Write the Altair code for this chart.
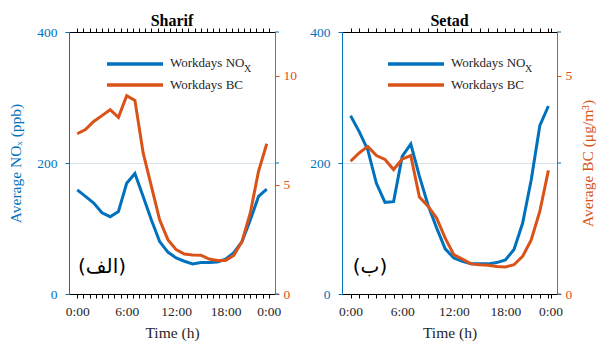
import altair as alt
import pandas as pd

# ---------------- data ----------------
hours = list(range(24))
nox_sharif = [159, 149, 139, 124, 118, 126, 169, 184, 149, 113, 80, 64, 55, 50, 46, 48, 48, 49, 53, 63, 80, 113, 149, 160]
bc_sharif = [7.34, 7.53, 7.9, 8.17, 8.44, 8.09, 9.08, 8.87, 6.46, 4.93, 3.4, 2.49, 2.03, 1.83, 1.79, 1.78, 1.6, 1.54, 1.54, 1.77, 2.41, 3.71, 5.62, 6.88]
nox_setad = [272, 248, 220, 169, 140, 141, 210, 229, 180, 136, 101, 69, 55, 50, 46, 46, 46, 48, 52, 68, 108, 174, 257, 287]
bc_setad = [3.04, 3.23, 3.38, 3.17, 3.08, 2.85, 3.09, 3.17, 2.22, 2.01, 1.74, 1.28, 0.9, 0.8, 0.69, 0.67, 0.66, 0.63, 0.62, 0.67, 0.86, 1.24, 1.89, 2.83]

label_pos = [0, 6, 12, 18, 23.25]
label_txt = ["0:00", "6:00", "12:00", "18:00", "0:00"]
ticks_sharif = [i * 0.75 for i in range(32)]
ticks_setad = list(range(24)) + [23.25]

nox_ticks = [0, 200, 400]
legend_labels = ["Workdays NO", "X", "Workdays BC"]

BLUE = "#0072BD"
ORANGE = "#D95319"
SERIF = "Liberation Serif"

label_expr = " : ".join(
    f"datum.value == {p} ? '{t}'" for p, t in zip(label_pos, label_txt)
) + " : ''"

common = dict(labelFont=SERIF, titleFont=SERIF, labelFontSize=13.5, titleFontSize=15.5,
              titleFontWeight="normal")


def panel(nox, bc, name, bc_max, bc_vals, tick_vals, width, tag, left_title, right_title, lx, tag_x):
    df = pd.DataFrame({"hour": hours, "nox": nox, "bc": bc})
    xscale = alt.Scale(domain=[-1, 24], nice=False, zero=False)
    vals = sorted(set(tick_vals) | set(label_pos))

    left_axis = dict(orient="left", values=nox_ticks, domainColor=BLUE, tickColor=BLUE,
                     labelColor=BLUE, titleColor=BLUE, tickSize=4, labelPadding=8,
                     grid=True, gridColor="#d8e3ec", gridWidth=1, titlePadding=13, **common)
    left_axis["title"] = left_title if left_title else None

    right_axis = dict(orient="right", values=bc_vals, domainColor=ORANGE, tickColor=ORANGE,
                      labelColor=ORANGE, titleColor=ORANGE, tickSize=4, labelPadding=4,
                      grid=False, titleAngle=270, titleBaseline="top", titlePadding=9, **common)
    right_axis["title"] = right_title if right_title else None

    nox_line = alt.Chart(df).mark_line(color=BLUE, strokeWidth=3).encode(
        x=alt.X("hour:Q", scale=xscale,
                axis=alt.Axis(orient="bottom", values=vals, labelExpr=label_expr,
                              title="Time (h)", tickSize=4, labelPadding=6,
                              titlePadding=8, domainColor="black", tickColor="black",
                              labelColor="#262626", titleColor="#262626",
                              labelFlush=False, grid=False, labelOverlap=False, **common)),
        y=alt.Y("nox:Q", scale=alt.Scale(domain=[0, 400], nice=False), axis=alt.Axis(**left_axis)),
    )
    bc_line = alt.Chart(df).mark_line(color=ORANGE, strokeWidth=3).encode(
        x=alt.X("hour:Q", scale=xscale,
                axis=alt.Axis(orient="top", values=tick_vals, labels=False, title=None,
                              tickSize=4, domainColor="black", tickColor="black", grid=False)),
        y=alt.Y("bc:Q", scale=alt.Scale(domain=[0, bc_max], nice=False), axis=alt.Axis(**right_axis)),
    )

    # mirrored NOx ticks on the right edge
    tick_df = pd.DataFrame({"t": nox_ticks})
    mirror = alt.Chart(tick_df).mark_rule(color=BLUE, strokeWidth=1).encode(
        x=alt.value(width), x2=alt.value(width + 4),
        y=alt.Y("t:Q", scale=alt.Scale(domain=[0, 400], nice=False), axis=None))

    one = pd.DataFrame({"k": [0]})
    r1 = alt.Chart(one).mark_rule(color=BLUE, strokeWidth=3.5).encode(
        x=alt.value(lx), x2=alt.value(lx + 56), y=alt.value(32))
    r2 = alt.Chart(one).mark_rule(color=ORANGE, strokeWidth=3.5).encode(
        x=alt.value(lx), x2=alt.value(lx + 56), y=alt.value(53))
    t1 = alt.Chart(one).mark_text(font=SERIF, fontSize=13, align="left", baseline="middle",
                                  color="#262626").encode(
        x=alt.value(lx + 63), y=alt.value(31), text=alt.value(legend_labels[0]))
    t1x = alt.Chart(one).mark_text(font=SERIF, fontSize=10, align="left", baseline="middle",
                                   color="#262626").encode(
        x=alt.value(lx + 137), y=alt.value(37), text=alt.value(legend_labels[1]))
    t2 = alt.Chart(one).mark_text(font=SERIF, fontSize=13, align="left", baseline="middle",
                                  color="#262626").encode(
        x=alt.value(lx + 63), y=alt.value(53), text=alt.value(legend_labels[2]))
    tg = alt.Chart(one).mark_text(font="DejaVu Sans", fontSize=20, align="center",
                                  baseline="middle", color="black").encode(
        x=alt.value(tag_x), y=alt.value(235), text=alt.value(tag))

    return alt.layer(nox_line, bc_line, mirror, r1, r2, t1, t1x, t2, tg).resolve_scale(
        y="independent").resolve_axis(x="independent", y="independent").properties(
        width=width, height=262,
        title=alt.TitleParams(name, font=SERIF, fontSize=16, fontWeight="bold",
                              color="black", offset=-4))


left = panel(nox_sharif, bc_sharif, "Sharif", 12, [0, 5, 10], ticks_sharif, 206, "(الف)",
             "Average NOₓ (ppb)", None, 38, 33)
right = panel(nox_setad, bc_setad, "Setad", 6, [0, 5], ticks_setad, 215, "(ب)",
              None, "Average BC (μg/m³)", 46, 28)

chart = alt.hconcat(left, right, spacing=67, bounds="flush").properties(
    padding={"left": 8, "top": 13, "right": 2, "bottom": 2}
).configure_view(stroke=None).configure_axis(**common)

chart.save("out.html", embed_options={"renderer": "svg", "actions": False})
